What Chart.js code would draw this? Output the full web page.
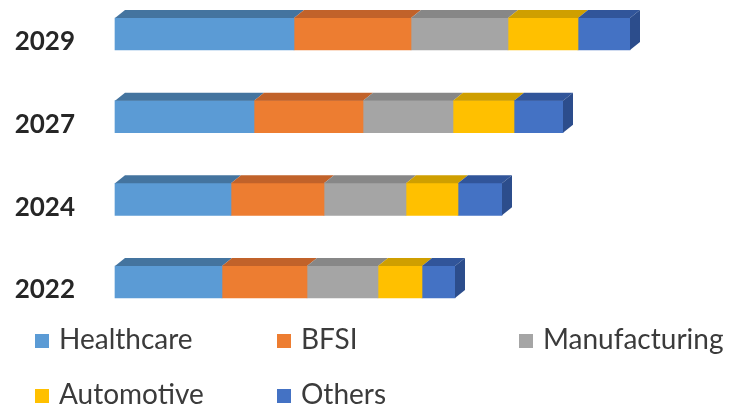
<!DOCTYPE html>
<html>
<head>
<meta charset="utf-8">
<script src="https://cdn.jsdelivr.net/npm/chart.js@4.4.1/dist/chart.umd.min.js"></script>
<style>
    html, body { margin: 0; padding: 0; background: #ffffff; }
    #wrap { position: relative; width: 729px; height: 409px; overflow: hidden; }
    #legend { position: absolute; left: 0; top: 0; width: 729px; height: 409px; pointer-events: none; }
    .legend-item {
        position: absolute;
        display: flex;
        align-items: center;
        font-family: Lato, "Open Sans", sans-serif;
        font-size: 28px;
        color: #3b3b3b;
        white-space: nowrap;
        line-height: 1;
    }
    .legend-item .box { width: 14px; height: 14px; margin-right: 10px; margin-top: 6px; }
</style>
</head>
<body>
<div id="wrap">
    <canvas id="segmentChart" width="729" height="409"></canvas>
    <div id="legend"></div>
</div>
<script>
const years = ["2029", "2027", "2024", "2022"];

const healthcare = [17.9, 13.9, 11.6, 10.7];
const bfsi = [11.7, 10.9, 9.3, 8.5];
const manufacturing = [9.7, 9.0, 8.2, 7.1];
const automotive = [7.0, 6.1, 5.2, 4.4];
const others = [5.2, 4.9, 4.4, 3.3];

// front, top and side shades for each segment
const segmentStyles = [
    { label: "Healthcare", data: healthcare, front: "#5b9bd5", top: "#44749f" },
    { label: "BFSI", data: bfsi, front: "#ed7d31", top: "#c1622a" },
    { label: "Manufacturing", data: manufacturing, front: "#a5a5a5", top: "#878787" },
    { label: "Automotive", data: automotive, front: "#ffc000", top: "#cf9f00" },
    { label: "Others", data: others, front: "#4472c4", top: "#31559a", side: "#2c4d8c" },
];

const depthX = 10;
const depthY = 8;

// draws the slanted top of every segment and the right end of each bar
const bar3dFaces = {
    id: "bar3dFaces",
    afterDatasetsDraw(chart) {
        const ctx = chart.ctx;
        const lastIndex = chart.data.datasets.length - 1;
        ctx.save();
        chart.data.datasets.forEach((dataset, datasetIndex) => {
            const meta = chart.getDatasetMeta(datasetIndex);
            meta.data.forEach((bar) => {
                const { x, y, base, height } = bar.getProps(["x", "y", "base", "height"], true);
                const top = y - height / 2;
                const bottom = y + height / 2;

                ctx.fillStyle = dataset.topColor;
                ctx.beginPath();
                ctx.moveTo(base, top);
                ctx.lineTo(base + depthX, top - depthY);
                ctx.lineTo(x + depthX, top - depthY);
                ctx.lineTo(x, top);
                ctx.closePath();
                ctx.fill();

                if (datasetIndex === lastIndex) {
                    ctx.fillStyle = dataset.sideColor;
                    ctx.beginPath();
                    ctx.moveTo(x, top);
                    ctx.lineTo(x + depthX, top - depthY);
                    ctx.lineTo(x + depthX, bottom - depthY);
                    ctx.lineTo(x, bottom);
                    ctx.closePath();
                    ctx.fill();
                }
            });
        });
        ctx.restore();
    },
};

const chart = new Chart(document.getElementById("segmentChart"), {
    type: "bar",
    data: {
        labels: years,
        datasets: segmentStyles.map((style) => ({
            label: style.label,
            data: style.data,
            backgroundColor: style.front,
            topColor: style.top,
            sideColor: style.side || style.top,
            borderWidth: 0,
            barThickness: 32,
            clip: false,
        })),
    },
    options: {
        indexAxis: "y",
        responsive: false,
        animation: false,
        layout: { padding: { top: 34, bottom: 127, right: 14, left: 0 } },
        plugins: {
            legend: { display: false },
            tooltip: { enabled: false },
        },
        scales: {
            x: {
                stacked: true,
                display: false,
                min: 0,
                max: 60,
            },
            y: {
                stacked: true,
                offset: false,
                grid: { display: false, drawTicks: false },
                border: { display: false },
                afterFit: (axis) => {
                    axis.width = 115;
                    axis.paddingTop = 0;
                    axis.paddingBottom = 0;
                },
                ticks: {
                    padding: 40,
                    labelOffset: 8,
                    color: "#262626",
                    font: { family: "Lato", size: 26, weight: "bold" },
                },
            },
        },
    },
    plugins: [bar3dFaces],
});

// legend in three columns, two rows
const legendEl = document.getElementById("legend");
const legendColumns = [35, 277, 519];
const legendRows = [324, 379];
chart.data.datasets.forEach((dataset, index) => {
    const item = document.createElement("div");
    item.className = "legend-item";
    item.style.left = legendColumns[index % 3] + "px";
    item.style.top = legendRows[Math.floor(index / 3)] + "px";
    const box = document.createElement("span");
    box.className = "box";
    box.style.background = dataset.backgroundColor;
    const text = document.createElement("span");
    text.textContent = dataset.label;
    item.appendChild(box);
    item.appendChild(text);
    legendEl.appendChild(item);
});
</script>
</body>
</html>
